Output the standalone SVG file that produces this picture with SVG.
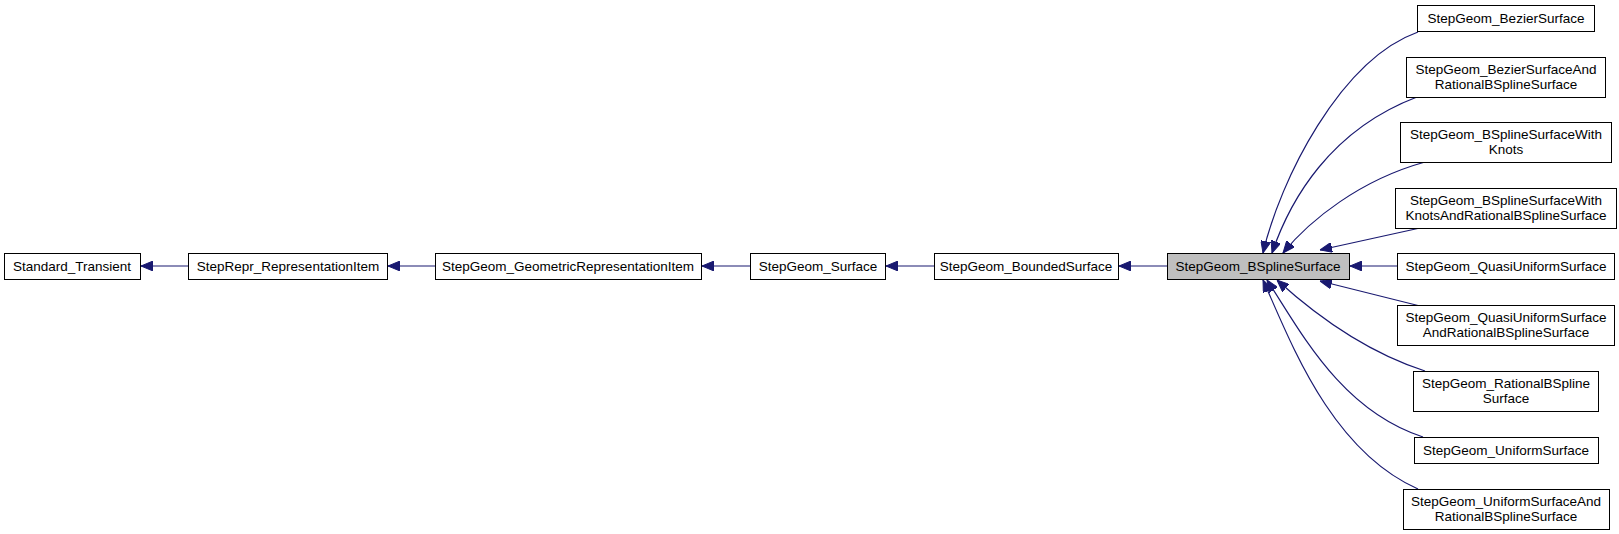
<svg xmlns="http://www.w3.org/2000/svg" width="1619" height="534" viewBox="0 0 1619 534">
<style>
.n rect{fill:#fff;stroke:#000;stroke-width:1}
.n text{font-family:"Liberation Sans",Arial,sans-serif;font-size:13.5px;text-anchor:middle;fill:#000}
#e path{fill:none;stroke:#191970;stroke-width:1.2}
</style>
<defs>
<marker id="a" viewBox="0 0 12 10" refX="12" refY="5" markerWidth="12" markerHeight="10" markerUnits="userSpaceOnUse" orient="auto">
<path d="M0,0 L12,5 L0,10 z" fill="#191970" stroke="#191970"/>
</marker>
</defs>
<rect width="1619" height="534" fill="#fff"/>
<g id="e">
<path d="M188,266 H141" marker-end="url(#a)"/>
<path d="M435,266 H388" marker-end="url(#a)"/>
<path d="M750,266 H702" marker-end="url(#a)"/>
<path d="M934,266 H886" marker-end="url(#a)"/>
<path d="M1167,266 H1119" marker-end="url(#a)"/>
<path d="M1397,266 H1350" marker-end="url(#a)"/>
<path d="M1418,32 C1340,60 1280,180 1263,253" marker-end="url(#a)"/>
<path d="M1417,97 C1330,130 1290,200 1272,253" marker-end="url(#a)"/>
<path d="M1425,162 C1360,180 1310,220 1283,253" marker-end="url(#a)"/>
<path d="M1420,228 L1320,250" marker-end="url(#a)"/>
<path d="M1420,306 L1320,281" marker-end="url(#a)"/>
<path d="M1425,371 C1360,350 1310,310 1277,280" marker-end="url(#a)"/>
<path d="M1423,437 C1340,410 1300,330 1267,280" marker-end="url(#a)"/>
<path d="M1418,489 C1330,450 1290,340 1263,280" marker-end="url(#a)"/>
</g>
<g id="n1" class="n"><rect x="4.5" y="253.5" width="136" height="26"/><text x="72" y="271">Standard_Transient</text></g>
<g id="n2" class="n"><rect x="188.5" y="253.5" width="199" height="26"/><text x="288" y="271">StepRepr_RepresentationItem</text></g>
<g id="n3" class="n"><rect x="435.5" y="253.5" width="266" height="26"/><text x="568" y="271">StepGeom_GeometricRepresentationItem</text></g>
<g id="n4" class="n"><rect x="750.5" y="253.5" width="135" height="26"/><text x="818" y="271">StepGeom_Surface</text></g>
<g id="n5" class="n"><rect x="934.5" y="253.5" width="184" height="26"/><text x="1026" y="271">StepGeom_BoundedSurface</text></g>
<g id="n6" class="n"><rect x="1167.5" y="253.5" width="182" height="26" style="fill:#bfbfbf"/><text x="1258" y="271">StepGeom_BSplineSurface</text></g>
<g id="n7" class="n"><rect x="1417.5" y="5.5" width="177" height="26"/><text x="1506" y="23">StepGeom_BezierSurface</text></g>
<g id="n8" class="n"><rect x="1406.5" y="57.5" width="199" height="40"/><text x="1506" y="74">StepGeom_BezierSurfaceAnd</text><text x="1506" y="89">RationalBSplineSurface</text></g>
<g id="n9" class="n"><rect x="1400.5" y="122.5" width="211" height="40"/><text x="1506" y="139">StepGeom_BSplineSurfaceWith</text><text x="1506" y="154">Knots</text></g>
<g id="n10" class="n"><rect x="1395.5" y="188.5" width="221" height="40"/><text x="1506" y="205">StepGeom_BSplineSurfaceWith</text><text x="1506" y="220">KnotsAndRationalBSplineSurface</text></g>
<g id="n11" class="n"><rect x="1397.5" y="253.5" width="217" height="26"/><text x="1506" y="271">StepGeom_QuasiUniformSurface</text></g>
<g id="n12" class="n"><rect x="1397.5" y="305.5" width="217" height="40"/><text x="1506" y="322">StepGeom_QuasiUniformSurface</text><text x="1506" y="337">AndRationalBSplineSurface</text></g>
<g id="n13" class="n"><rect x="1413.5" y="371.5" width="185" height="40"/><text x="1506" y="388">StepGeom_RationalBSpline</text><text x="1506" y="403">Surface</text></g>
<g id="n14" class="n"><rect x="1414.5" y="437.5" width="184" height="26"/><text x="1506" y="455">StepGeom_UniformSurface</text></g>
<g id="n15" class="n"><rect x="1403.5" y="489.5" width="206" height="40"/><text x="1506" y="506">StepGeom_UniformSurfaceAnd</text><text x="1506" y="521">RationalBSplineSurface</text></g>
</svg>
